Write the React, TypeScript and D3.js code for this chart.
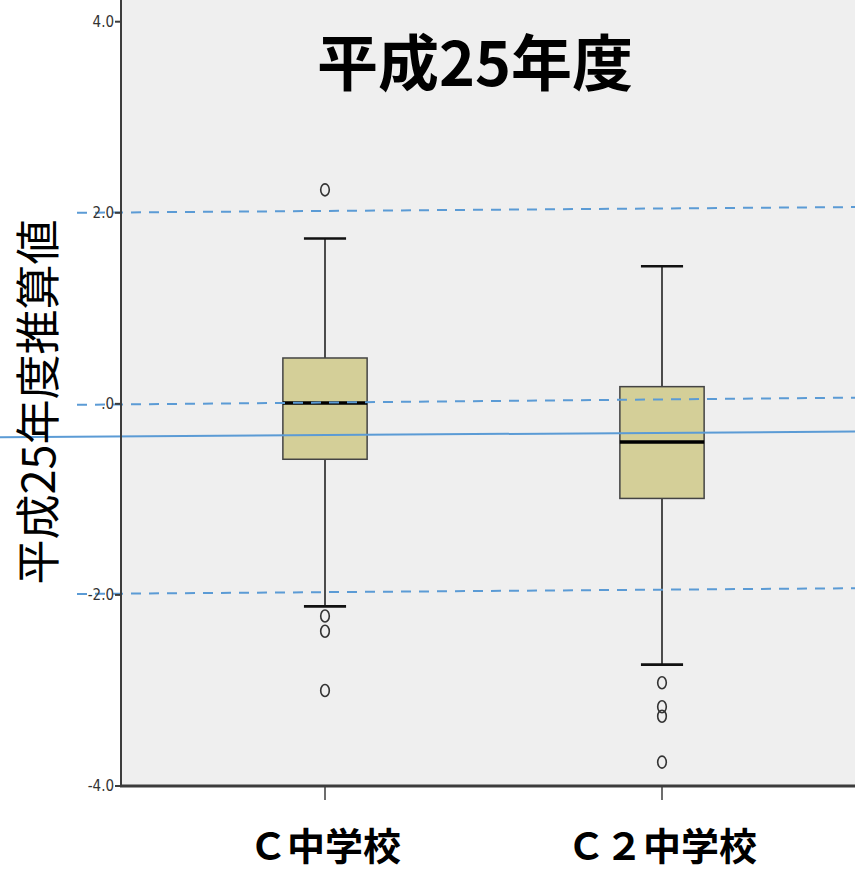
import React from "react";
import * as d3 from "d3";

const categories = ["Ｃ中学校", "Ｃ２中学校"];
const q1 = [-0.58, -0.99];
const medians = [0.01, -0.4];
const q3 = [0.48, 0.18];
const whiskerLow = [-2.12, -2.73];
const whiskerHigh = [1.73, 1.44];
const outliers = [
  [2.24, -2.22, -2.38, -3.0],
  [-2.92, -3.17, -3.27, -3.75],
];
const yTicks = [4, 2, 0, -2, -4];
const yTickLabels = ["4.0", "2.0", ".0", "-2.0", "-4.0"];
// reference lines: value at left end, value at right end
const dashedStart = [2.0, -0.01, -1.99];
const dashedEnd = [2.06, 0.065, -1.93];
const solidStart = [-0.35];
const solidEnd = [-0.29];

const W = 855;
const H = 871;
const plotLeft = 121;
const plotTop = 0;
const plotBottom = 786;

export default function App() {
  const y = d3.scaleLinear().domain([-4, 4]).range([786, 21.7]);
  const x = d3.scaleBand().domain(categories).range([156.5, 830.5]).padding(0);
  const step = x.bandwidth();
  const boxW = step * 0.25;
  const capHalf = step * 0.0625;
  const cx = (c: string) => (x(c) as number) + step / 2;
  const blue = "#5b9bd5";
  const axisCol = "#3c3c3c";

  return (
    <svg
      width={W}
      height={H}
      style={{ position: "absolute", left: 0, top: 0, display: "block", background: "#fff" }}
    >
      <rect x={plotLeft} y={plotTop} width={W - plotLeft} height={plotBottom - plotTop} fill="#efefef" />

      {/* whiskers & boxes */}
      {categories.map((c, i) => {
        const xc = cx(c);
        return (
          <g key={c}>
            <line x1={xc} x2={xc} y1={y(q3[i])} y2={y(whiskerHigh[i])} stroke="#222" strokeWidth={1.6} />
            <line x1={xc} x2={xc} y1={y(q1[i])} y2={y(whiskerLow[i])} stroke="#222" strokeWidth={1.6} />
            <line x1={xc - capHalf} x2={xc + capHalf} y1={y(whiskerHigh[i])} y2={y(whiskerHigh[i])} stroke="#111" strokeWidth={2.6} />
            <line x1={xc - capHalf} x2={xc + capHalf} y1={y(whiskerLow[i])} y2={y(whiskerLow[i])} stroke="#111" strokeWidth={2.6} />
            <rect
              x={xc - boxW / 2}
              y={y(q3[i])}
              width={boxW}
              height={y(q1[i]) - y(q3[i])}
              fill="#d4cf98"
              stroke="#444"
              strokeWidth={1.5}
            />
            <line x1={xc - boxW / 2} x2={xc + boxW / 2} y1={y(medians[i])} y2={y(medians[i])} stroke="#000" strokeWidth={3.5} />
            {outliers[i].map((v, j) => (
              <ellipse key={j} cx={xc} cy={y(v)} rx={4.3} ry={6} fill="none" stroke="#333" strokeWidth={1.6} />
            ))}
          </g>
        );
      })}

      {/* reference lines */}
      {dashedStart.map((v, i) => (
        <line
          key={"d" + i}
          x1={77}
          x2={W}
          y1={y(v)}
          y2={y(dashedEnd[i])}
          stroke={blue}
          strokeWidth={2}
          strokeDasharray="10 8"
        />
      ))}
      {solidStart.map((v, i) => (
        <line key={"s" + i} x1={0} x2={W} y1={y(v)} y2={y(solidEnd[i])} stroke={blue} strokeWidth={2} />
      ))}

      {/* y axis */}
      <line x1={plotLeft} x2={plotLeft} y1={plotTop} y2={plotBottom} stroke={axisCol} strokeWidth={2} />
      {yTicks.map((t, i) => (
        <g key={t}>
          <line x1={plotLeft - 6} x2={plotLeft} y1={y(t)} y2={y(t)} stroke={axisCol} strokeWidth={2} />
          <text
            x={plotLeft - 7}
            y={y(t)}
            dy="0.36em"
            textAnchor="end"
            fontFamily="'Liberation Sans Narrow', 'DejaVu Sans Condensed', sans-serif"
            fontStretch="condensed"
            fontSize={15}
            fill="#333"
          >
            {yTickLabels[i]}
          </text>
        </g>
      ))}

      {/* x axis */}
      <line x1={plotLeft - 1} x2={W} y1={plotBottom} y2={plotBottom} stroke={axisCol} strokeWidth={3} />
      {categories.map((c) => (
        <g key={"xt" + c}>
          <line x1={cx(c)} x2={cx(c)} y1={plotBottom} y2={plotBottom + 14} stroke={axisCol} strokeWidth={1.5} />
          <text
            x={cx(c)}
            y={860}
            textAnchor="middle"
            fontFamily="'Noto Sans CJK JP', sans-serif"
            fontWeight="bold"
            fontSize={38}
            fill="#000"
          >
            {c}
          </text>
        </g>
      ))}

      {/* title */}
      <text
        x={475}
        y={86}
        textAnchor="middle"
        fontFamily="'Noto Sans CJK JP', sans-serif"
        fontWeight="bold"
        fontSize={61}
        fill="#000"
      >
        平成25年度
      </text>

      {/* y axis label */}
      <text
        transform={`translate(55,${402}) rotate(-90)`}
        textAnchor="middle"
        fontFamily="'Noto Sans CJK JP', sans-serif"
        fontSize={45}
        fill="#000"
      >
        平成25年度推算値
      </text>
    </svg>
  );
}
